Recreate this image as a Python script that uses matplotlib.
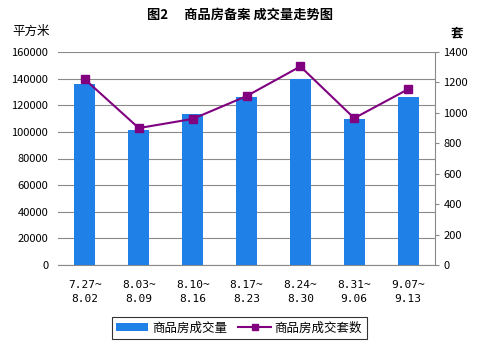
import matplotlib
matplotlib.use('Agg')
import matplotlib.pyplot as plt
from matplotlib.patches import Patch
from matplotlib.lines import Line2D

plt.rcParams['font.family'] = ['Noto Sans CJK SC', 'DejaVu Sans']

weeks = ['7.27~\n8.02', '8.03~\n8.09', '8.10~\n8.16', '8.17~\n8.23',
         '8.24~\n8.30', '8.31~\n9.06', '9.07~\n9.13']
area = [136300, 101500, 113800, 126500, 140000, 110000, 126500]   # 平方米
units = [1220, 900, 960, 1110, 1305, 965, 1155]                    # 套

bar_color = '#1f80e8'
line_color = '#800080'

fig = plt.figure(figsize=(4.8, 3.46), dpi=100)
ax = fig.add_axes([58/480, 1-265/346, 377/480, 213/346])
x = list(range(len(weeks)))

ax.bar(x, area, width=0.39, color=bar_color, zorder=3)
ax.set_ylim(0, 160000)
ax.set_yticks(range(0, 160001, 20000))
ax.set_xlim(-0.5, 6.5)
ax.set_xticks(x)
ax.set_xticklabels(weeks, fontsize=8, family=['DejaVu Sans Mono'], linespacing=1.5)
ax.tick_params(axis='x', length=0, pad=11)
ax.tick_params(axis='y', length=0, labelsize=8, pad=7)
ax.yaxis.grid(True, color='#8a8a8a', linewidth=0.8, zorder=0)
for s in ['left', 'top', 'right']:
    ax.spines[s].set_visible(False)
ax.spines['bottom'].set_color('#8a8a8a')

ax2 = ax.twinx()
ax2.plot(x, units, color=line_color, linewidth=1.5, marker='s',
         markersize=6, zorder=4)
ax2.set_ylim(0, 1400)
ax2.set_yticks(range(0, 1401, 200))
ax2.tick_params(axis='y', length=3, color='#8a8a8a', labelsize=8, pad=3)
for s in ['left', 'top', 'bottom']:
    ax2.spines[s].set_visible(False)
ax2.spines['right'].set_color('#8a8a8a')

fig.text(0.5, 1-15/346, '图2　 商品房备案 成交量走势图', ha='center', va='center',
         fontsize=9.5, fontweight='bold')
fig.text(12/480, 1-31/346, '平方米', ha='left', va='center', fontsize=9)
fig.text(457/480, 1-33/346, '套', ha='center', va='center', fontsize=9,
         fontweight='bold')

handles = [Patch(facecolor=bar_color, edgecolor='none'),
           Line2D([], [], color=line_color, marker='s', markersize=5, linewidth=1.5)]
leg = fig.legend(handles, ['商品房成交量', '商品房成交套数'], loc='center',
                 bbox_to_anchor=(239/480, 1-328/346), ncol=2, fontsize=9,
                 frameon=True, fancybox=False, edgecolor='black',
                 handlelength=2.6, handleheight=0.6, columnspacing=0.9,
                 borderpad=0.35, handletextpad=0.3)
leg.get_frame().set_linewidth(0.8)

fig.savefig('out.png', dpi=100)
